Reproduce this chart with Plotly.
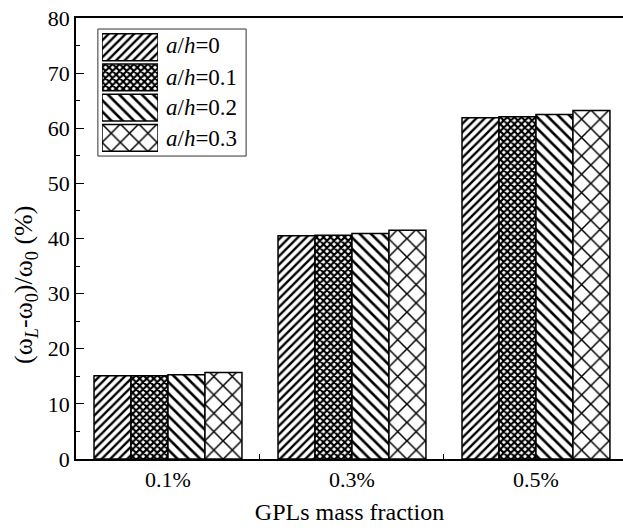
import plotly.graph_objects as go

# Data
categories = ["0.1%", "0.3%", "0.5%"]
series_names = ["<i>a</i>/<i>h</i>=0", "<i>a</i>/<i>h</i>=0.1", "<i>a</i>/<i>h</i>=0.2", "<i>a</i>/<i>h</i>=0.3"]
vals_ah0 = [15.1, 40.5, 61.9]
vals_ah01 = [15.1, 40.6, 62.1]
vals_ah02 = [15.3, 40.9, 62.5]
vals_ah03 = [15.7, 41.5, 63.2]
series_values = [vals_ah0, vals_ah01, vals_ah02, vals_ah03]

# Hatch styles per series
patterns = [
    dict(shape="/", size=6, solidity=0.4),
    dict(shape="x", size=5, solidity=0.65),
    dict(shape="\\", size=8, solidity=0.33),
    dict(shape="x", size=13, solidity=0.22),
]

FONT = "Liberation Serif"


def bar_marker(pat):
    return dict(color="white",
                line=dict(color="black", width=1.5),
                pattern=dict(fgcolor="black", bgcolor="white", fgopacity=1,
                             fillmode="replace", **pat))


fig = go.Figure()

for name, vals, pat in zip(series_names, series_values, patterns):
    fig.add_trace(go.Bar(x=categories, y=vals, name=name,
                         marker=bar_marker(pat), showlegend=False))

# Legend swatches on their own small axes
for i, (name, pat) in enumerate(zip(series_names, patterns)):
    fig.add_trace(go.Bar(
        x=[1], y=[3 - i], orientation="h", width=0.89,
        xaxis="x2", yaxis="y2",
        marker=bar_marker(pat),
        showlegend=False, hoverinfo="skip",
    ))

leg_y = [0.938, 0.866, 0.796, 0.726]
for i, name in enumerate(series_names):
    fig.add_annotation(x=0.160, y=leg_y[i], xref="paper", yref="paper",
                       text=name, showarrow=False, xanchor="left", yanchor="middle",
                       font=dict(family=FONT, size=23, color="black"))

fig.add_shape(type="rect", xref="paper", yref="paper",
              x0=0.040, x1=0.311, y0=0.687, y1=0.975,
              line=dict(color="#333333", width=1), fillcolor="rgba(0,0,0,0)", layer="above")

# Y-axis title, set a little below the middle of the axis
fig.add_annotation(x=-0.093, y=0.395, xref="paper", yref="paper",
                   text="(ω<sub><i>L</i></sub>-ω<sub>0</sub>)/ω<sub>0</sub> (%)",
                   textangle=-90, showarrow=False, xanchor="center", yanchor="middle",
                   font=dict(family=FONT, size=26, color="black"))

fig.update_layout(
    width=623, height=530,
    margin=dict(l=76, r=0, t=18, b=71),
    plot_bgcolor="white", paper_bgcolor="white",
    barmode="group", bargap=0.196, bargroupgap=0,
    font=dict(family=FONT, size=22, color="black"),
    xaxis=dict(
        type="category", range=[-0.5, 2.473],
        showline=True, linecolor="black", linewidth=1.5, mirror=True,
        ticks="inside", tickson="boundaries", ticklen=5, tickcolor="black",
        showgrid=False, zeroline=False,
        tickfont=dict(family=FONT, size=22, color="black"),
        title=dict(text="GPLs mass fraction", font=dict(family=FONT, size=24, color="black"), standoff=12),
    ),
    yaxis=dict(
        range=[0, 80], dtick=10,
        showline=True, linecolor="black", linewidth=1.5,
        ticks="inside", ticklen=8, tickcolor="black",
        minor=dict(dtick=5, ticks="inside", ticklen=4, tickcolor="black"),
        showgrid=False, zeroline=False,
        tickfont=dict(family=FONT, size=22, color="black"),
    ),
    xaxis2=dict(domain=[0.0475, 0.150], range=[0, 1], anchor="y2",
                visible=False, fixedrange=True),
    yaxis2=dict(domain=[0.694, 0.968], range=[-0.5, 3.5], anchor="x2",
                visible=False, fixedrange=True),
)

fig.write_html("out.html")
